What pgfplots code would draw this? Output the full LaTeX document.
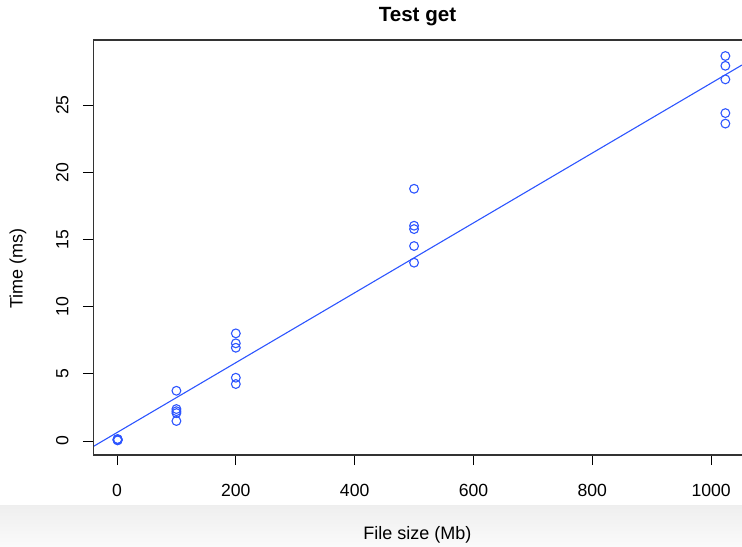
\documentclass[border=0pt]{standalone}
\usepackage{pgfplots}
\pgfplotsset{compat=1.18}
\usepackage{fontspec}
\setmainfont{Liberation Sans}
\definecolor{rblue}{RGB}{45,85,255}

\begin{document}
\begin{tikzpicture}
% canvas: 1 px of the reference = 0.5pt
\path[use as bounding box] (0,0) rectangle (371pt,273pt);
\shade[top color=gray!13, bottom color=gray!4] (0,0) rectangle (371pt,20.5pt);
\begin{axis}[
    at={(46.5pt,45.5pt)}, anchor=south west,
    scale only axis,
    width=324.5pt, height=207.5pt,
    xmin=-40.4, xmax=1052,
    ymin=-1.04, ymax=29.84,
    xtick={0,200,...,1000},
    ytick={0,5,...,25},
    xtick pos=bottom, ytick pos=left,
    tick align=outside,
    major tick length=5pt,
    every tick/.style={black, line width=0.5pt},
    axis line style={draw=none},
    /pgf/number format/assume math mode=true,
    /pgf/number format/1000 sep={},
    tick label style={font=\fontsize{8.8}{10}\selectfont},
    xticklabel style={anchor=north, inner sep=0pt, yshift=-9.5pt},
    yticklabel style={rotate=90, anchor=south, inner sep=0pt, yshift=7pt},
    every axis title shift=0pt,
    title={Test get},
    title style={font=\fontsize{10.3}{12}\selectfont\bfseries, at={(rel axis cs:0.5,1.0554)}, anchor=center},
    xlabel={File size (Mb)},
    xlabel style={font=\fontsize{9}{11}\selectfont, at={(rel axis cs:0.5,-0.1928)}, anchor=center},
    ylabel={Time (ms)},
    ylabel style={font=\fontsize{9}{11}\selectfont, at={(rel axis cs:-0.1156,0.45)}, anchor=center},
]
% measurements
\addplot[only marks, mark=o, mark size=2.2pt, color=rblue, mark options={line width=0.55pt}] coordinates {
    (1,0.05) (1,0.07) (1,0.09) (1,0.12) (1,0.15)
    (100,3.74) (100,2.38) (100,2.22) (100,2.08) (100,1.49)
    (200,8.01) (200,7.27) (200,6.94) (200,4.71) (200,4.24)
    (500,18.77) (500,16.02) (500,15.77) (500,14.51) (500,13.27)
    (1024,28.65) (1024,27.92) (1024,26.91) (1024,24.40) (1024,23.62)
};
% least squares line
\addplot[color=rblue, line width=0.55pt] coordinates {(-40.4,-0.42) (1052,27.98)};

% box (right side falls outside the screenshot)
\draw[black!80, line width=0.6pt] (rel axis cs:1,1) -- (rel axis cs:0,1) -- (rel axis cs:0,0) -- (rel axis cs:1,0);
\end{axis}
\end{tikzpicture}
\end{document}
